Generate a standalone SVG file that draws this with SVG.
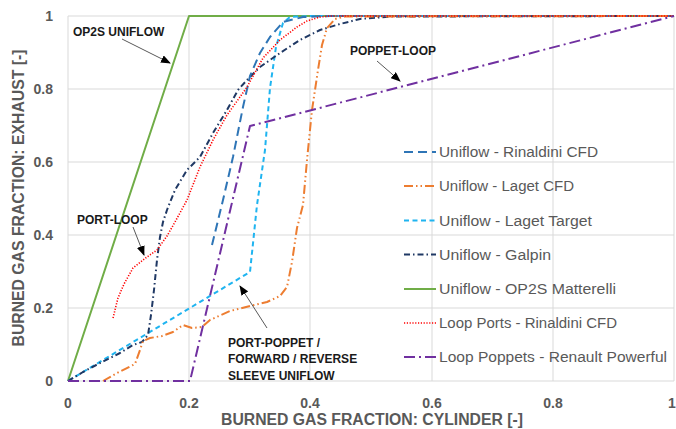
<svg xmlns="http://www.w3.org/2000/svg" width="676" height="429" viewBox="0 0 676 429">
<style>
.grid{stroke:#D9D9D9;stroke-width:1;fill:none}
.tick{font-family:"Liberation Sans",Arial,sans-serif;font-size:14px;font-weight:bold;fill:#595959}
.title{font-family:"Liberation Sans",Arial,sans-serif;font-size:16px;font-weight:bold;fill:#595959}
.leg{font-family:"Liberation Sans",Arial,sans-serif;font-size:14px;fill:#595959}
.ann{font-family:"Liberation Sans",Arial,sans-serif;font-size:12px;font-weight:bold;fill:#1a1a1a}
.s{fill:none;stroke-linejoin:round}
.rin{stroke:#2E75B6;stroke-width:2;stroke-dasharray:9 5}
.lcfd{stroke:#ED7D31;stroke-width:2;stroke-dasharray:9 3 1.5 3 1.5 3}
.ltgt{stroke:#1FB4F0;stroke-width:2;stroke-dasharray:5 3.5}
.gal{stroke:#1F3864;stroke-width:2;stroke-dasharray:6 3 1.5 3}
.op2s{stroke:#70AD47;stroke-width:2}
.lport{stroke:#FF0000;stroke-width:1.6;stroke-dasharray:1.2 1.6}
.lpop{stroke:#7030A0;stroke-width:2;stroke-dasharray:11 4 2 4}
.arr{stroke:#595959;stroke-width:1;fill:none;marker-end:url(#ah)}
</style>
<defs>
<marker id="ah" markerWidth="10" markerHeight="8" refX="9" refY="4" orient="auto" markerUnits="userSpaceOnUse">
<path d="M0,0 L10,4 L0,8 Z" fill="#000"/>
</marker>
</defs>
<rect width="676" height="429" fill="#fff"/>
<g id="grid">
<path class="grid" d="M68,16V381M189,16V381M310,16V381M432,16V381M553,16V381M674,16V381M68,16H674M68,89H674M68,162H674M68,235H674M68,308H674M68,381H674"/>
</g>
<g id="axis-labels">
<text class="tick" x="53" y="21" text-anchor="end">1</text>
<text class="tick" x="53" y="94" text-anchor="end">0.8</text>
<text class="tick" x="53" y="167" text-anchor="end">0.6</text>
<text class="tick" x="53" y="240" text-anchor="end">0.4</text>
<text class="tick" x="53" y="313" text-anchor="end">0.2</text>
<text class="tick" x="53" y="386" text-anchor="end">0</text>
<text class="tick" x="68" y="408" text-anchor="middle">0</text>
<text class="tick" x="189" y="408" text-anchor="middle">0.2</text>
<text class="tick" x="310" y="408" text-anchor="middle">0.4</text>
<text class="tick" x="432" y="408" text-anchor="middle">0.6</text>
<text class="tick" x="553" y="408" text-anchor="middle">0.8</text>
<text class="tick" x="672" y="408" text-anchor="middle">1</text>
<text class="title" x="372" y="425" text-anchor="middle" textLength="302" lengthAdjust="spacingAndGlyphs">BURNED GAS FRACTION: CYLINDER [-]</text>
<text class="title" transform="translate(24,198) rotate(-90)" text-anchor="middle" textLength="297" lengthAdjust="spacingAndGlyphs">BURNED GAS FRACTION: EXHAUST [-]</text>
</g>
<g id="series">
<path id="op2s" class="s op2s" d="M68,381L189,16L674,16"/>
<path id="laget-target" class="s ltgt" d="M68,381L250,272L257,205L265,150L270,88L276,47L283,23L290,17L310,16L674,16"/>
<path id="galpin" class="s gal" d="M68,381L83,372L100,363L120,353L133,345L142,342L148,335L151,315L154,290L157,260L160,237L163,222L167,210L175,190L187,170L200,157L213,133L227,110L238,90L247,80L260,67L280,53L300,40L320,30L340,24L360,19L390,16.5L674,16"/>
<path id="rinaldini" class="s rin" d="M212,245L223,200L233,157L243,107L250,76L260,53L270,37L283,22L303,17L330,16L674,16"/>
<path id="laget-cfd" class="s lcfd" d="M103,381L117,373L135,364L140,350L143,341L150,338L162,336L173,332L183,325L192,328L202,327L210,320L230,311L250,306L267,302L280,296L287,287L292,262L297,228L303,205L307,160L312,110L318,70L322,45L327,28L335,19L345,16.5L674,16"/>
<path id="loop-ports" class="s lport" d="M113,318L118,298L124,284L133,268L147,257L157,250L167,236L175,222L187,200L200,167L213,140L227,115L240,97L247,87L263,58L280,40L297,27L307,21L320,17L330,16L674,16"/>
<path id="loop-poppets" class="s lpop" d="M68,381L190,381L250,126L674,16"/>
</g>
<g id="legend">
<line class="s rin" x1="404" y1="152" x2="436" y2="152"/>
<text class="leg" x="439" y="157" textLength="159" lengthAdjust="spacingAndGlyphs">Uniflow - Rinaldini CFD</text>
<line class="s lcfd" x1="404" y1="186" x2="436" y2="186"/>
<text class="leg" x="439" y="191" textLength="135" lengthAdjust="spacingAndGlyphs">Uniflow - Laget CFD</text>
<line class="s ltgt" x1="404" y1="220.5" x2="436" y2="220.5"/>
<text class="leg" x="439" y="225.5" textLength="153" lengthAdjust="spacingAndGlyphs">Uniflow - Laget Target</text>
<line class="s gal" x1="404" y1="254.5" x2="436" y2="254.5"/>
<text class="leg" x="439" y="259.5" textLength="112" lengthAdjust="spacingAndGlyphs">Uniflow - Galpin</text>
<line class="s op2s" x1="404" y1="289" x2="436" y2="289"/>
<text class="leg" x="439" y="294" textLength="177" lengthAdjust="spacingAndGlyphs">Uniflow - OP2S Matterelli</text>
<line class="s lport" x1="404" y1="323" x2="436" y2="323"/>
<text class="leg" x="439" y="328" textLength="178" lengthAdjust="spacingAndGlyphs">Loop Ports - Rinaldini CFD</text>
<line class="s lpop" x1="404" y1="357" x2="436" y2="357"/>
<text class="leg" x="439" y="362" textLength="228" lengthAdjust="spacingAndGlyphs">Loop Poppets - Renault Powerful</text>
</g>
<g id="annotations">
<g id="ann-op2s">
<text class="ann" x="73" y="35.5">OP2S UNIFLOW</text>
<path class="arr" d="M122,39L170,63"/>
</g>
<g id="ann-port-loop">
<text class="ann" x="77" y="223.5">PORT-LOOP</text>
<path class="arr" d="M133,227L144,255"/>
</g>
<g id="ann-poppet-loop">
<text class="ann" x="350" y="54.5">POPPET-LOOP</text>
<path class="arr" d="M377,61L400,81"/>
</g>
<g id="ann-port-poppet">
<text class="ann" x="228" y="346.5">PORT-POPPET /</text>
<text class="ann" x="228" y="362.5">FORWARD / REVERSE</text>
<text class="ann" x="228" y="379.5">SLEEVE UNIFLOW</text>
<path class="arr" d="M267,328L240,286"/>
</g>
</g>
</svg>
